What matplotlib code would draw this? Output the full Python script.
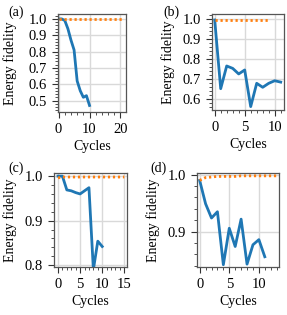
import matplotlib
matplotlib.use("Agg")
import matplotlib.pyplot as plt
from matplotlib.ticker import AutoMinorLocator, MultipleLocator

plt.rcParams['font.family'] = ['Liberation Serif', 'DejaVu Serif']
plt.rcParams['font.size'] = 10

# panel (a)
a_blue_x = [0, 1, 2, 3, 4, 5, 6, 7, 8, 9, 10]
a_blue_y = [1.0, 1.0, 0.99, 0.94, 0.87, 0.81, 0.62, 0.56, 0.52, 0.53, 0.47]
a_orange_x = [0, 1, 2, 3, 4, 5, 6, 7, 8, 9, 10, 11, 12, 13, 14, 15, 16, 17, 18, 19, 20, 21]
a_orange_y = [0.997] * 22

# panel (b)
b_blue_x = [0, 1, 2, 3, 4, 5, 6, 7, 8, 9, 10, 11]
b_blue_y = [0.995, 0.65, 0.764, 0.752, 0.724, 0.744, 0.56, 0.677, 0.657, 0.677, 0.69, 0.683]
b_orange_x = [0, 1, 2, 3, 4, 5, 6, 7, 8, 9]
b_orange_y = [0.995] * 10

# panel (c)
c_blue_x = [0, 1, 2, 3, 4, 5, 6, 7, 8, 9, 10]
c_blue_y = [1.0, 1.0, 0.969, 0.967, 0.963, 0.96, 0.967, 0.974, 0.79, 0.854, 0.842]
c_orange_x = [0, 1, 2, 3, 4, 5, 6, 7, 8, 9, 10, 11, 12, 13, 14, 15]
c_orange_y = [0.996, 0.998, 0.998, 0.998, 0.998, 0.998, 0.998, 0.998,
              0.998, 0.998, 0.998, 0.998, 0.998, 0.998, 0.998, 0.998]

# panel (d)
d_blue_x = [0, 1, 2, 3, 4, 5, 6, 7, 8, 9, 10, 11]
d_blue_y = [0.99, 0.949, 0.924, 0.935, 0.842, 0.906, 0.874, 0.922, 0.843, 0.877, 0.886, 0.856]
d_orange_x = [0, 1, 2, 3, 4, 5, 6, 7, 8, 9, 10, 11, 12, 13]
d_orange_y = [0.99, 0.995, 0.996, 0.997, 0.997, 0.997, 0.997, 0.998,
              0.998, 0.998, 0.998, 0.998, 0.998, 0.998]

W, H = 287, 315
fig = plt.figure(figsize=(W / 100, H / 100), dpi=100)


def make_axes(left, right, top, bottom):
    return fig.add_axes([left / W, 1 - bottom / H, (right - left) / W, (bottom - top) / H])


panels = [
    # box, blue, orange, xlim, ylim, xtick step, label, label pos, ylabel x (right edge of text)
    ((58, 126, 14, 112), (a_blue_x, a_blue_y), (a_orange_x, a_orange_y),
     (-0.2, 21.8), (0.43, 1.03), 10, '(a)', (8, 12), 17),
    ((212, 284, 14, 110), (b_blue_x, b_blue_y), (b_orange_x, b_orange_y),
     (-0.45, 11.55), (0.543, 1.025), 5, '(b)', (163, 12), 175),
    ((54, 127, 173, 267), (c_blue_x, c_blue_y), (c_orange_x, c_orange_y),
     (-0.9, 15.6), (0.796, 1.007), 5, '(c)', (8, 168), 17),
    ((197, 279, 173, 267), (d_blue_x, d_blue_y), (d_orange_x, d_orange_y),
     (-0.45, 13.4), (0.838, 1.003), 5, '(d)', (150, 168), 160),
]

for box, blue, orange, xl, yl, xstep, lab, lpos, ylx in panels:
    ax = make_axes(*box)
    ax.grid(True, which='major', color='#d9d9d9', linewidth=1.0)
    ax.set_axisbelow(True)
    ax.plot(blue[0], blue[1], color='#1f77b4', linewidth=2.0)
    ax.plot(orange[0], orange[1], color='#ff7f0e', linewidth=2.0, linestyle=(0, (0.8, 1.0)))
    ax.set_xlim(*xl)
    ax.set_ylim(*yl)
    ax.yaxis.set_major_locator(MultipleLocator(0.1))
    ax.xaxis.set_major_locator(MultipleLocator(xstep))
    ax.yaxis.set_minor_locator(AutoMinorLocator(5))
    ax.xaxis.set_minor_locator(AutoMinorLocator(5))
    ax.tick_params(which='major', length=4, width=0.8, colors='#333333',
                   labelcolor='black', labelsize=10.5, pad=4)
    ax.tick_params(which='minor', length=2, width=0.6, colors='#333333')
    for s in ax.spines.values():
        s.set_color('#555555')
        s.set_linewidth(0.9)
    ax.set_xlabel('Cycles', labelpad=3)
    ax.set_ylabel('Energy fidelity')
    ax.yaxis.set_label_coords((ylx - box[0]) / (box[1] - box[0]), 0.5)
    fig.text(lpos[0] / W, 1 - lpos[1] / H, lab, ha='left', va='center', fontsize=10)

fig.savefig('out.png', dpi=100)
